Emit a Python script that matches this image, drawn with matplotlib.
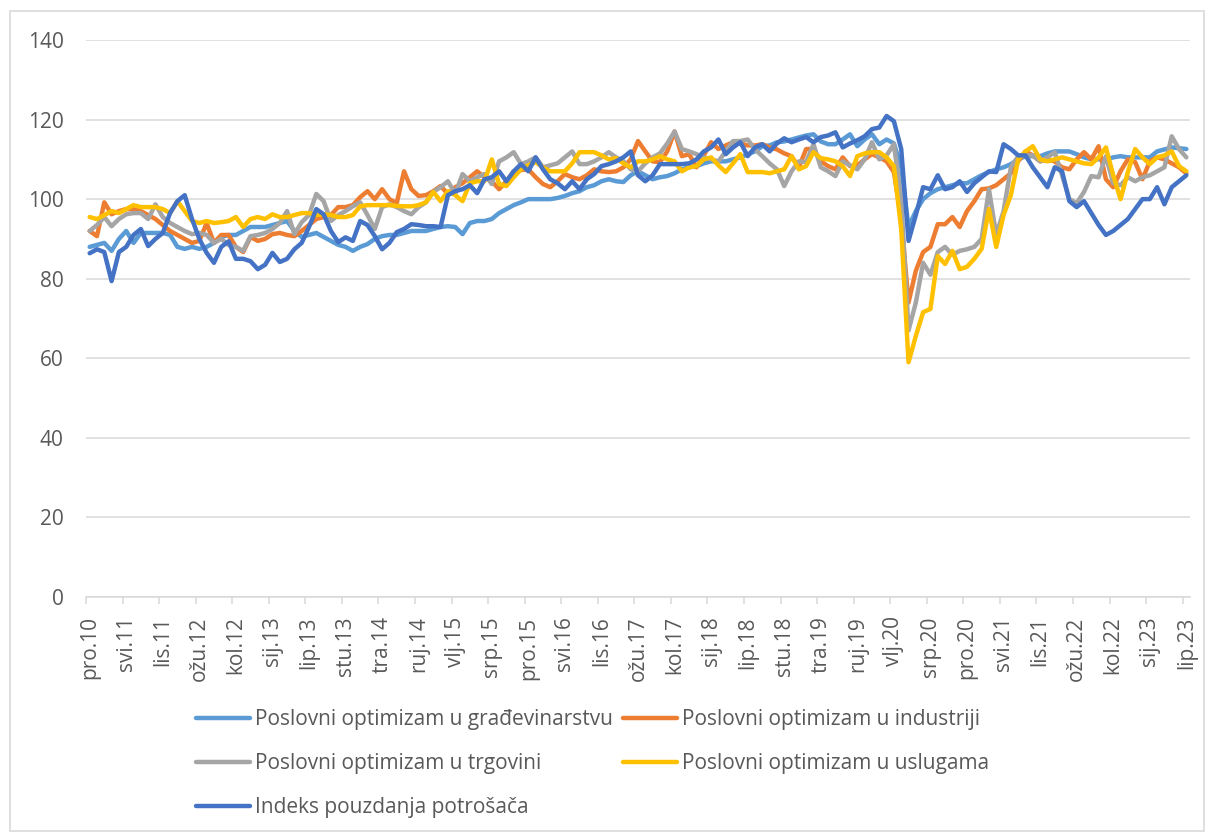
import matplotlib
matplotlib.use("Agg")
import matplotlib.pyplot as plt
from matplotlib.patches import Rectangle

plt.rcParams['font.family'] = ['Open Sans', 'DejaVu Sans']

# ---- podaci (mjesečno, pro.2010 - lip.2023) ----
tick_labels = ["pro.10", "svi.11", "lis.11", "ožu.12", "kol.12", "sij.13", "lip.13", "stu.13",
               "tra.14", "ruj.14", "vlj.15", "srp.15", "pro.15", "svi.16", "lis.16", "ožu.17",
               "kol.17", "sij.18", "lip.18", "stu.18", "tra.19", "ruj.19", "vlj.20", "srp.20",
               "pro.20", "svi.21", "lis.21", "ožu.22", "kol.22", "sij.23", "lip.23"]

gradjevinarstvo = [
    88, 88.5, 89, 87, 90, 92, 89, 91.5, 91.5, 91.5, 91.5, 91, 88, 87.5, 88, 87.5, 88, 89, 90.5, 91,
    91, 92, 93, 93, 93, 93.5, 94, 94.5, 92, 90.5, 91, 91.5, 90.5, 89.5, 88.5, 88, 87, 88, 88.7, 90,
    90.7, 91, 91, 91.5, 92, 92, 92, 92.5, 93, 93.2, 93, 91.2, 94, 94.5, 94.5, 95, 96.5, 97.5, 98.5, 99.2,
    100, 100, 100, 100, 100.3, 100.8, 101.5, 102, 103, 103.5, 104.5, 105, 104.5, 104.3, 106, 107, 106, 105, 105.5, 105.8,
    106.5, 107.5, 108, 108.3, 109, 109.5, 109.5, 109.5, 110, 110.5, 111.3, 112, 113.3, 113.5, 114.3, 114.5, 115, 115.5, 116, 116.3,
    114.5, 113.8, 113.8, 115, 116.3, 113.3, 115, 116.3, 113.8, 115, 114, 108, 93, 97, 100, 101.5, 102.5, 103, 103.5, 104,
    104, 105, 106, 106.8, 107.5, 108, 108.8, 110, 110.8, 110.8, 110.8, 111.5, 112, 112, 112, 111.3, 110.5, 110, 110, 110,
    110.5, 110.8, 110.5, 110.5, 110.5, 110.5, 112, 112.5, 113, 112.8, 112.6]

industrija = [
    92, 90.7, 99.2, 96.2, 97, 97.5, 97.5, 97, 96, 95, 93.5, 92, 91, 90, 89, 89.5, 94, 89, 91, 91,
    88, 86.7, 90.5, 89.5, 90, 91.2, 91.5, 91, 90.7, 92, 93.5, 95, 95.5, 96, 98, 98, 98.5, 100.5, 102, 100,
    102.5, 100, 99, 107, 102.5, 100.8, 101, 102, 103.3, 101.3, 103, 104, 105.5, 107, 105.5, 104.5, 102.5, 104.5, 107, 107.3,
    107.5, 105.5, 103.8, 103, 104.5, 106.3, 105.5, 105, 106, 107.5, 107, 106.8, 107, 108, 110, 114.6, 112, 109.5, 109.3, 112,
    117, 110.8, 111.3, 108, 111, 114.3, 112.6, 113.5, 114.3, 114, 113.5, 113.5, 113.8, 113, 112.5, 111.5, 110.8, 108, 112.6, 112.6,
    109.5, 108.3, 107.5, 110.5, 108.3, 108.5, 110, 111.3, 110.5, 109.5, 106.8, 95, 74, 82, 86.7, 88, 93.7, 93.7, 95.5, 93,
    97, 99.5, 102.5, 102.7, 103.5, 105, 106.5, 109.5, 112, 111, 109.5, 110, 109.5, 108, 107.5, 110, 111.8, 110, 113.3, 105,
    103, 107, 110, 109.3, 105, 109.5, 110.5, 110, 109, 108, 106.5]

trgovina = [
    92, 93.5, 95.5, 93.2, 95, 96.2, 96.5, 96.5, 95, 98.7, 95.5, 94, 93, 92, 91.2, 91.5, 91, 89, 90, 88.5,
    88, 87, 90.7, 91, 91.5, 92.5, 94, 97, 91.2, 94.2, 96, 101.3, 99.5, 94.5, 96, 97, 98.2, 99.2, 96, 92.5,
    98, 98.7, 98, 97, 96.2, 98, 99.2, 101.8, 103, 104.5, 101.3, 106.3, 104.5, 105.5, 106.3, 103.8, 109.5, 110.5, 111.8, 108.8,
    109.5, 110.5, 108, 108.5, 109, 110.5, 112, 108.8, 108.8, 109.5, 110.5, 111.8, 110.5, 109.5, 107.5, 107, 109, 110.5, 111.5, 114,
    117, 112.6, 112, 111.3, 110.5, 110, 109.5, 112, 114.6, 114.6, 115, 112.5, 110.8, 109, 107.5, 103.3, 107, 109.5, 109.3, 113.8,
    108, 107, 105.8, 109.5, 108.5, 107.5, 110, 114.3, 110, 111, 113.8, 100, 67, 74, 84, 81, 86.7, 88, 86, 87,
    87.4, 88, 90, 102.5, 91, 97, 108, 110.8, 111, 111, 109.5, 110.5, 111.8, 106, 100, 99, 101.8, 105.8, 105.5, 110.8,
    104, 103.5, 105.5, 104.5, 105.5, 106, 107, 108, 115.8, 112.6, 110.5]

usluge = [
    95.5, 95, 96, 97, 96.5, 97.5, 98.5, 98, 98, 98, 97.5, 96.5, 99.5, 97, 94.5, 94, 94.5, 94, 94.2, 94.5,
    95.5, 93, 95, 95.5, 95, 96.2, 95.5, 95.5, 96, 96.5, 96.5, 96, 96.2, 96, 95.5, 95.5, 96, 98.2, 98.5, 98.5,
    98.5, 98.5, 98.3, 98.2, 98.2, 98.5, 99.2, 101.8, 99.5, 102, 101, 99.5, 104, 104.5, 104.5, 110, 103.8, 103.3, 105.5, 107.5,
    108.5, 109.3, 108, 107, 107, 107, 109, 111.8, 111.8, 111.8, 111, 110, 110.3, 109, 108, 109.5, 109.5, 110, 110.8, 110,
    109.5, 107, 108, 108.3, 110, 110.5, 108.5, 106.8, 109, 111.3, 106.8, 106.8, 106.8, 106.5, 107, 107.5, 110.8, 107.5, 108.3, 111.8,
    110.3, 110, 109.5, 108.3, 105.8, 110.8, 111.5, 111.8, 111.8, 110.5, 108.3, 92.5, 59, 65.6, 71.6, 72.4, 85.7, 83.7, 87, 82.4,
    83, 85, 87.5, 97.5, 88, 96, 101, 110, 112, 113.3, 110, 109.5, 110, 110.5, 110, 109.5, 109, 108.8, 110.5, 113,
    106, 100, 106.8, 112.6, 110.5, 108.8, 110.5, 111, 112, 108.3, 107]

pouzdanje = [
    86.4, 87.4, 86.7, 79.4, 86.7, 88, 91, 92.5, 88.2, 90, 91.5, 96.5, 99.5, 101, 95, 90, 86.5, 84, 88, 89.4,
    85, 85, 84.4, 82.4, 83.5, 86.5, 84.2, 85, 87.4, 89, 93, 97.5, 96.2, 92, 89.2, 90.4, 89.5, 94.5, 93.5, 90.7,
    87.4, 89, 91.7, 92.5, 93.7, 93.5, 93.2, 93.2, 93, 101, 102, 102.5, 103.5, 101.5, 105, 105.5, 107, 104.5, 107, 108.8,
    107, 110.5, 107.5, 105, 104, 102.5, 104.5, 102.5, 105, 106.3, 108.3, 108.8, 109.5, 110.5, 112, 106, 104.5, 106, 108.8, 108.8,
    108.8, 108.8, 109, 110, 112, 113, 115, 111.3, 113, 114.3, 110.8, 113, 113.8, 112, 114, 115.3, 114.3, 115, 115.6, 114.3,
    115.6, 116, 116.8, 113, 114, 114.8, 115.8, 117.6, 118, 120.9, 119.6, 112.6, 89.5, 96, 103, 102.5, 106, 102.5, 103, 104.5,
    101.8, 104, 105.5, 107, 106.8, 113.8, 112.6, 111, 111, 108, 105.5, 103, 108, 107, 99.5, 98, 99.5, 96.5, 93.5, 91,
    92, 93.5, 95, 97.5, 100, 100, 103, 98.7, 103, 104.5, 106]

series = [
    ("Poslovni optimizam u građevinarstvu", gradjevinarstvo, "#5B9BD5"),
    ("Poslovni optimizam u industriji", industrija, "#ED7D31"),
    ("Poslovni optimizam u trgovini", trgovina, "#A5A5A5"),
    ("Poslovni optimizam u uslugama", usluge, "#FFC000"),
    ("Indeks pouzdanja potrošača", pouzdanje, "#4472C4"),
]

W, H = 1209, 834
fig = plt.figure(figsize=(W / 100, H / 100), dpi=100)
ax = fig.add_axes([86 / W, 1 - 597 / H, 1104 / W, 557 / H])

x = list(range(len(pouzdanje)))
lines = {}
for name, vals, col in series:
    lines[name], = ax.plot(x, vals, color=col, lw=3.2, solid_joinstyle="round",
                           solid_capstyle="round", label=name)

ax.set_xlim(-0.5, len(x) - 0.5)
ax.set_ylim(0, 140)
ax.set_yticks(range(0, 141, 20))
ax.grid(axis="y", color="#D9D9D9", lw=1.1)
ax.set_axisbelow(True)
for s in ["top", "right", "left"]:
    ax.spines[s].set_visible(False)
ax.spines["bottom"].set_color("#D9D9D9")
ax.spines["bottom"].set_linewidth(1.1)

txt = "#595959"
fs = 15
ax.tick_params(axis="y", length=0, pad=16, labelsize=fs, labelcolor=txt)
ax.set_xticks(range(0, len(x), 5))
ax.set_xticklabels(tick_labels, rotation=90, va="top", ha="center")
ax.tick_params(axis="x", length=0, pad=14, labelsize=fs, labelcolor=txt)
ax.set_xticks([i - 0.5 for i in range(0, len(x), 5)], minor=True)
ax.tick_params(axis="x", which="minor", length=5, color="#D9D9D9", width=1.1)

# legenda po redovima kao u Excelu
order = ["Poslovni optimizam u građevinarstvu", "Poslovni optimizam u trgovini",
         "Indeks pouzdanja potrošača", "Poslovni optimizam u industriji",
         "Poslovni optimizam u uslugama"]
fig.legend([lines[n] for n in order], order, ncol=2, loc="upper left",
           bbox_to_anchor=(196 / W, 1 - 709 / H), frameon=False, fontsize=fs,
           labelcolor=txt, handlelength=2.6, handletextpad=0.25, columnspacing=0.45,
           labelspacing=1.1, borderaxespad=0, borderpad=0)

fig.patches.append(Rectangle((9.5 / W, 3 / H), 1194 / W, 820 / H, transform=fig.transFigure,
                             fill=False, edgecolor="#D9D9D9", lw=1.2))

fig.savefig("out.png", dpi=100)
